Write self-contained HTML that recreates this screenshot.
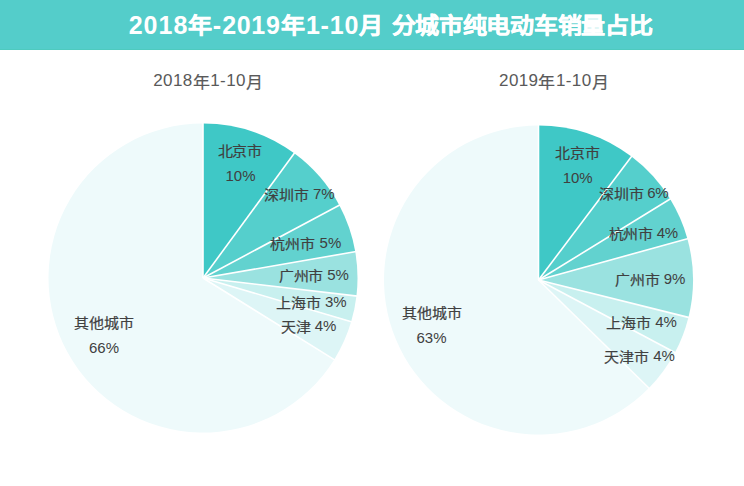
<!DOCTYPE html>
<html lang="zh-CN"><head><meta charset="utf-8">
<style>
html,body{margin:0;padding:0;}
body{width:744px;height:486px;background:#fff;position:relative;overflow:hidden;font-family:"Liberation Sans",sans-serif;}
.hd{position:absolute;left:0;top:0;width:744px;height:49px;background:#54CDCA;border-bottom:1px solid #4ECABF;}
.t{position:absolute;line-height:1;white-space:pre;}
.c{display:inline-block;}
svg{position:absolute;left:0;top:0;}
</style></head><body>
<div class="hd"></div>
<svg width="744" height="486" viewBox="0 0 744 486">
<path d="M203,278 L203.00,123.50 A154.5,154.5 0 0 1 294.25,153.32 Z" fill="#3FC8C6"/>
<path d="M203,278 L294.25,153.32 A154.5,154.5 0 0 1 339.29,205.23 Z" fill="#55CFCC"/>
<path d="M203,278 L339.29,205.23 A154.5,154.5 0 0 1 355.25,251.70 Z" fill="#62D2CF"/>
<path d="M203,278 L355.25,251.70 A154.5,154.5 0 0 1 356.44,296.03 Z" fill="#9AE2E0"/>
<path d="M203,278 L356.44,296.03 A154.5,154.5 0 0 1 351.21,321.62 Z" fill="#C8F0EF"/>
<path d="M203,278 L351.21,321.62 A154.5,154.5 0 0 1 334.17,359.64 Z" fill="#DDF5F6"/>
<path d="M203,278 L334.17,359.64 A154.5,154.5 0 1 1 203.00,123.50 Z" fill="#EEFAFB"/>
<line x1="203" y1="278" x2="203.00" y2="122.50" stroke="#fff" stroke-width="1.6"/>
<line x1="203" y1="278" x2="294.84" y2="152.52" stroke="#fff" stroke-width="1.6"/>
<line x1="203" y1="278" x2="340.17" y2="204.76" stroke="#fff" stroke-width="1.6"/>
<line x1="203" y1="278" x2="356.23" y2="251.53" stroke="#fff" stroke-width="1.6"/>
<line x1="203" y1="278" x2="357.44" y2="296.14" stroke="#fff" stroke-width="1.6"/>
<line x1="203" y1="278" x2="352.17" y2="321.90" stroke="#fff" stroke-width="1.6"/>
<line x1="203" y1="278" x2="335.02" y2="360.17" stroke="#fff" stroke-width="1.6"/>
<path d="M538.5,280 L538.50,125.50 A154.5,154.5 0 0 1 631.48,156.61 Z" fill="#3FC8C6"/>
<path d="M538.5,280 L631.48,156.61 A154.5,154.5 0 0 1 670.09,199.04 Z" fill="#55CFCC"/>
<path d="M538.5,280 L670.09,199.04 A154.5,154.5 0 0 1 687.38,238.71 Z" fill="#62D2CF"/>
<path d="M538.5,280 L687.38,238.71 A154.5,154.5 0 0 1 688.41,317.38 Z" fill="#9AE2E0"/>
<path d="M538.5,280 L688.41,317.38 A154.5,154.5 0 0 1 674.92,352.53 Z" fill="#C8F0EF"/>
<path d="M538.5,280 L674.92,352.53 A154.5,154.5 0 0 1 648.89,388.10 Z" fill="#DDF5F6"/>
<path d="M538.5,280 L648.89,388.10 A154.5,154.5 0 1 1 538.50,125.50 Z" fill="#EEFAFB"/>
<line x1="538.5" y1="280" x2="538.50" y2="124.50" stroke="#fff" stroke-width="1.6"/>
<line x1="538.5" y1="280" x2="632.08" y2="155.81" stroke="#fff" stroke-width="1.6"/>
<line x1="538.5" y1="280" x2="670.94" y2="198.52" stroke="#fff" stroke-width="1.6"/>
<line x1="538.5" y1="280" x2="688.34" y2="238.44" stroke="#fff" stroke-width="1.6"/>
<line x1="538.5" y1="280" x2="689.38" y2="317.62" stroke="#fff" stroke-width="1.6"/>
<line x1="538.5" y1="280" x2="675.80" y2="353.00" stroke="#fff" stroke-width="1.6"/>
<line x1="538.5" y1="280" x2="649.60" y2="388.80" stroke="#fff" stroke-width="1.6"/>
</svg>
<div class="t" id="t1" style="left:128.63px;top:13.28px;font-size:25px;letter-spacing:1.013px;color:#fff;font-weight:bold;">2018</div><div class="t" id="t2" style="left:187.70px;top:14.13px;font-size:24px;letter-spacing:0.000px;color:#fff;font-weight:bold;-webkit-text-stroke:0.5px #fff;transform:scaleY(0.91);transform-origin:50% 12.1px">年</div><div class="t" id="t3" style="left:212.79px;top:13.28px;font-size:25px;letter-spacing:0.000px;color:#fff;font-weight:bold;">-</div><div class="t" id="t4" style="left:222.23px;top:13.22px;font-size:25px;letter-spacing:0.667px;color:#fff;font-weight:bold;">2019</div><div class="t" id="t5" style="left:281.00px;top:14.13px;font-size:24px;letter-spacing:0.000px;color:#fff;font-weight:bold;-webkit-text-stroke:0.5px #fff;transform:scaleY(0.91);transform-origin:50% 12.1px">年</div><div class="t" id="t6" style="left:305.90px;top:13.22px;font-size:25px;letter-spacing:0.800px;color:#fff;font-weight:bold;">1-10</div><div class="t" id="t7" style="left:359.38px;top:14.13px;font-size:24px;letter-spacing:0.000px;color:#fff;font-weight:bold;-webkit-text-stroke:0.5px #fff;transform:scaleY(0.91);transform-origin:50% 12.1px">月</div><div class="t" id="t8" style="left:391.50px;top:14.13px;font-size:24px;letter-spacing:-0.280px;color:#fff;font-weight:bold;-webkit-text-stroke:0.5px #fff;transform:scaleY(0.91);transform-origin:50% 12.1px">分城市纯电动车销量占比</div><div class="t" id="s1" style="left:153.20px;top:71.91px;font-size:17px;letter-spacing:0.427px;color:#595959;font-weight:normal;">2018<span class="c" style="transform:scaleY(0.93);position:relative;top:2px;-webkit-text-stroke:0.2px #595959">年</span>1-10<span class="c" style="transform:scaleY(0.93);position:relative;top:2px;-webkit-text-stroke:0.2px #595959">月</span></div><div class="t" id="s2" style="left:499.05px;top:71.91px;font-size:17px;letter-spacing:0.400px;color:#595959;font-weight:normal;">2019<span class="c" style="transform:scaleY(0.93);position:relative;top:2px;-webkit-text-stroke:0.2px #595959">年</span>1-10<span class="c" style="transform:scaleY(0.93);position:relative;top:2px;-webkit-text-stroke:0.2px #595959">月</span></div><div class="t" id="bj1" style="left:217.64px;top:142.26px;font-size:15px;letter-spacing:-0.400px;color:#404040;font-weight:normal;"><span class="c" style="transform:scaleY(0.92);position:relative;top:1px;-webkit-text-stroke:0.2px #404040">北京市</span></div><div class="t" id="bj1p" style="left:225.50px;top:167.95px;font-size:15px;letter-spacing:0.010px;color:#404040;font-weight:normal;">10%</div><div class="t" id="sz1" style="left:263.95px;top:186.25px;font-size:15px;letter-spacing:-0.044px;color:#404040;font-weight:normal;"><span class="c" style="transform:scaleY(0.92);position:relative;top:1px;-webkit-text-stroke:0.2px #404040">深圳市</span> 7%</div><div class="t" id="hz1" style="left:270.00px;top:234.85px;font-size:15px;letter-spacing:0.100px;color:#404040;font-weight:normal;"><span class="c" style="transform:scaleY(0.92);position:relative;top:1px;-webkit-text-stroke:0.2px #404040">杭州市</span> 5%</div><div class="t" id="gz1" style="left:278.82px;top:267.08px;font-size:15px;letter-spacing:-0.192px;color:#404040;font-weight:normal;"><span class="c" style="transform:scaleY(0.92);position:relative;top:1px;-webkit-text-stroke:0.2px #404040">广州市</span> 5%</div><div class="t" id="sh1" style="left:276.06px;top:294.18px;font-size:15px;letter-spacing:-0.064px;color:#404040;font-weight:normal;"><span class="c" style="transform:scaleY(0.92);position:relative;top:1px;-webkit-text-stroke:0.2px #404040">上海市</span> 3%</div><div class="t" id="tj1" style="left:280.78px;top:317.93px;font-size:15px;letter-spacing:-0.055px;color:#404040;font-weight:normal;"><span class="c" style="transform:scaleY(0.92);position:relative;top:1px;-webkit-text-stroke:0.2px #404040">天津</span> 4%</div><div class="t" id="qt1" style="left:74.00px;top:314.00px;font-size:15px;letter-spacing:0.000px;color:#404040;font-weight:normal;"><span class="c" style="transform:scaleY(0.92);position:relative;top:1px;-webkit-text-stroke:0.2px #404040">其他城市</span></div><div class="t" id="qt1p" style="left:88.98px;top:340.06px;font-size:15px;letter-spacing:0.000px;color:#404040;font-weight:normal;">66%</div><div class="t" id="bj2" style="left:554.72px;top:144.24px;font-size:15px;letter-spacing:0.060px;color:#404040;font-weight:normal;"><span class="c" style="transform:scaleY(0.92);position:relative;top:1px;-webkit-text-stroke:0.2px #404040">北京市</span></div><div class="t" id="bj2p" style="left:562.75px;top:170.00px;font-size:15px;letter-spacing:-0.120px;color:#404040;font-weight:normal;">10%</div><div class="t" id="sz2" style="left:599.02px;top:185.26px;font-size:15px;letter-spacing:-0.256px;color:#404040;font-weight:normal;"><span class="c" style="transform:scaleY(0.92);position:relative;top:1px;-webkit-text-stroke:0.2px #404040">深圳市</span> 6%</div><div class="t" id="hz2" style="left:608.57px;top:225.38px;font-size:15px;letter-spacing:-0.240px;color:#404040;font-weight:normal;"><span class="c" style="transform:scaleY(0.92);position:relative;top:1px;-webkit-text-stroke:0.2px #404040">杭州市</span> 4%</div><div class="t" id="gz2" style="left:614.92px;top:271.22px;font-size:15px;letter-spacing:-0.064px;color:#404040;font-weight:normal;"><span class="c" style="transform:scaleY(0.92);position:relative;top:1px;-webkit-text-stroke:0.2px #404040">广州市</span> 9%</div><div class="t" id="sh2" style="left:606.40px;top:314.15px;font-size:15px;letter-spacing:-0.104px;color:#404040;font-weight:normal;"><span class="c" style="transform:scaleY(0.92);position:relative;top:1px;-webkit-text-stroke:0.2px #404040">上海市</span> 4%</div><div class="t" id="tj2" style="left:604.12px;top:348.38px;font-size:15px;letter-spacing:-0.040px;color:#404040;font-weight:normal;"><span class="c" style="transform:scaleY(0.92);position:relative;top:1px;-webkit-text-stroke:0.2px #404040">天津市</span> 4%</div><div class="t" id="qt2" style="left:402.10px;top:303.88px;font-size:15px;letter-spacing:0.000px;color:#404040;font-weight:normal;"><span class="c" style="transform:scaleY(0.92);position:relative;top:1px;-webkit-text-stroke:0.2px #404040">其他城市</span></div><div class="t" id="qt2p" style="left:416.48px;top:330.06px;font-size:15px;letter-spacing:0.000px;color:#404040;font-weight:normal;">63%</div>
</body></html>
